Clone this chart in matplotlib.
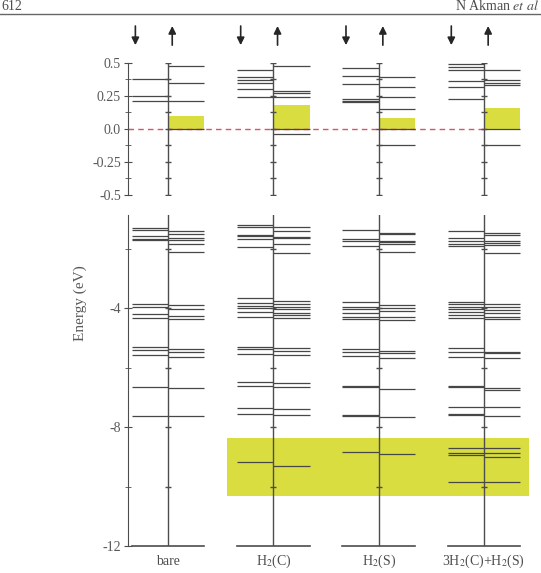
import numpy as np
import matplotlib
matplotlib.use("Agg")
from matplotlib import pyplot as plt

plt.rcParams['font.family'] = ['Liberation Serif', 'DejaVu Serif']
plt.rcParams['mathtext.fontset'] = 'stix'

# structure names (x axis)
structures = ['bare', r'H$_2$(C)', r'H$_2$(S)', r'3H$_2$(C)+H$_2$(S)']

# energy levels (eV), spin down / spin up
bare_down = [0.38, 0.25, 0.21, -1.32, -1.38, -1.58, -1.68, -1.71, -3.87, -3.98, -4.21, -4.35,
             -5.32, -5.41, -5.58, -6.67, -7.62]
bare_up = [0.48, 0.35, 0.21, 0.0, -1.40, -1.50, -1.66, -1.71, -1.85, -2.12, -3.90, -4.03, -4.26,
           -4.38, -5.39, -5.47, -5.66, -6.68, -7.63]
h2c_down = [0.45, 0.39, 0.37, 0.35, 0.30, 0.245, -1.21, -1.27, -1.54, -1.58, -1.68, -1.94, -3.67,
            -3.84, -3.92, -4.01, -4.12, -4.29, -5.30, -5.39, -5.56, -6.48, -6.61, -7.37, -7.56, -9.17]
h2c_up = [0.48, 0.29, 0.27, 0.24, 0.0, -0.04, -1.29, -1.40, -1.60, -1.66, -1.83, -2.16, -3.76,
          -3.87, -3.96, -4.03, -4.16, -4.24, -4.35, -5.35, -5.43, -5.59, -6.53, -6.67, -7.41, -7.60,
          -9.31]
h2s_down = [0.46, 0.40, 0.34, 0.225, 0.215, 0.205, -1.39, -1.67, -1.74, -1.91, -3.81, -3.96, -4.03,
            -4.15, -4.31, -4.36, -5.38, -5.47, -5.61, -6.61, -6.64, -7.60, -7.63, -8.85]
h2s_up = [0.39, 0.32, 0.24, 0.155, 0.0, -0.125, -1.47, -1.52, -1.74, -1.79, -1.86, -2.13, -3.90,
          -4.01, -4.09, -4.29, -4.40, -5.43, -5.52, -5.67, -6.71, -7.65, -8.92]
mix_down = [0.49, 0.47, 0.445, 0.36, 0.315, 0.23, -1.40, -1.66, -1.74, -1.83, -1.92, -3.79, -3.87,
            -3.96, -4.03, -4.12, -4.24, -4.35, -5.35, -5.47, -5.64, -6.61, -6.67, -7.34, -7.56,
            -7.60, -8.72, -8.88, -8.94, -9.84]
mix_up = [0.45, 0.37, 0.35, 0.33, 0.0, -0.125, -1.49, -1.55, -1.74, -1.80, -1.88, -2.16, -3.87,
          -3.96, -4.07, -4.18, -4.29, -4.38, -5.47, -5.52, -5.69, -6.70, -6.76, -7.34, -7.63, -8.72,
          -8.86, -9.00, -9.84]

spin_down = [bare_down, h2c_down, h2s_down, mix_down]
spin_up = [bare_up, h2c_up, h2s_up, mix_up]

# spin-up gap above the Fermi level (yellow boxes)
gap_up = [0.10, 0.18, 0.08, 0.16]
# H-related band region in the lower panel
band_x = [1.56, 4.43]
band_lo, band_hi = -10.32, -8.36

yellow = '#d9dd3f'
lc = '0.28'
half = 0.345
centers = np.arange(1, len(structures) + 1)

fig = plt.figure(figsize=(5.41, 5.73), dpi=100)
ax_top = fig.add_axes([0.2366, 0.6597, 0.743, 0.2304])
ax_bot = fig.add_axes([0.2366, 0.0471, 0.743, 0.5777])

for ax in (ax_top, ax_bot):
    ax.set_xlim(0.62, 4.437)
    for s in ('top', 'right', 'bottom'):
        ax.spines[s].set_visible(False)
    ax.spines['left'].set_color('0.3')
    ax.set_xticks([])
    ax.tick_params(axis='y', which='both', direction='inout', colors='0.3',
                   labelcolor='0.35', labelsize=10, pad=2)
    ax.tick_params(axis='y', which='major', length=6)
    ax.tick_params(axis='y', which='minor', length=4)

ax_top.set_ylim(-0.5, 0.5)
ax_top.set_yticks([0.5, 0.25, 0.0, -0.25, -0.5])
ax_top.set_yticklabels(['0.5', '0.25', '0.0', '-0.25', '-0.5'])
top_minor = np.arange(-0.5, 0.51, 0.125)
ax_top.set_yticks(top_minor, minor=True)

ax_bot.set_ylim(-12, -0.87)
ax_bot.set_yticks([-4, -8, -12])
ax_bot.set_yticklabels(['-4', '-8', '-12'])
bot_minor = [-2, -6, -10]
ax_bot.set_yticks(bot_minor, minor=True)

# yellow regions
ax_top.bar(centers, gap_up, width=half, align='edge', bottom=0, color=yellow,
           edgecolor='none', zorder=1)
ax_bot.fill_between(band_x, band_lo, band_hi, color=yellow, lw=0, zorder=1)

# Fermi level
ax_top.plot([0.62, centers[-1]], [0, 0], color='#e0506a', ls=(0, (4, 3)), lw=1, zorder=2)

for c, dn, up in zip(centers, spin_down, spin_up):
    dn = np.array(dn)
    up = np.array(up)
    ax_top.hlines(dn[dn >= -0.5], c - half, c, color=lc, lw=0.9, zorder=3)
    ax_top.hlines(up[up >= -0.5], c, c + half, color=lc, lw=0.9, zorder=3)
    ax_bot.hlines(dn[dn < -0.5], c - half, c, color=lc, lw=0.9, zorder=3)
    ax_bot.hlines(up[up < -0.5], c, c + half, color=lc, lw=0.9, zorder=3)

    # vertical separator with small tick marks
    ax_top.plot([c, c], [-0.5, 0.5], color='0.3', lw=1, zorder=4)
    ax_top.plot(np.full(len(top_minor), c), top_minor, ls='none', marker='_', ms=4,
                color='0.3', zorder=4)
    ax_bot.plot([c, c], [-12, -0.87], color='0.3', lw=1, zorder=4)
    ax_bot.plot(np.full(5, c), [-2, -4, -6, -8, -10], ls='none', marker='_', ms=4,
                color='0.3', zorder=4)
    ax_bot.plot([c - half, c + half], [-12, -12], color='0.3', lw=1.2, zorder=4,
                clip_on=False)

    # spin arrows
    ax_top.annotate('', xy=(c - 0.31, 0.635), xytext=(c - 0.31, 0.78), annotation_clip=False,
                    arrowprops=dict(arrowstyle='-|>', color='0.15', lw=1.2, mutation_scale=11,
                                    shrinkA=0, shrinkB=0))
    ax_top.annotate('', xy=(c + 0.04, 0.78), xytext=(c + 0.04, 0.635), annotation_clip=False,
                    arrowprops=dict(arrowstyle='-|>', color='0.15', lw=1.2, mutation_scale=11,
                                    shrinkA=0, shrinkB=0))

for c, name in zip(centers, structures):
    ax_bot.text(c, -12.52, name, ha='center', va='center', fontsize=10, color='0.3',
                clip_on=False)

fig.text(80 / 541, 1 - 303 / 573, 'Energy (eV)', rotation=90, ha='center', va='center',
         fontsize=11, color='0.35')

# page header
fig.add_artist(plt.Line2D([0, 1], [1 - 14 / 573, 1 - 14 / 573], color='0.4', lw=1))
fig.text(0.002, 1 - 6 / 573, '612', ha='left', va='center', fontsize=10, color='0.3')
fig.text(0.997, 1 - 6 / 573, 'N Akman $\\it{et\\ al}$', ha='right', va='center',
         fontsize=10, color='0.3')

fig.savefig('out.png', dpi=100)
